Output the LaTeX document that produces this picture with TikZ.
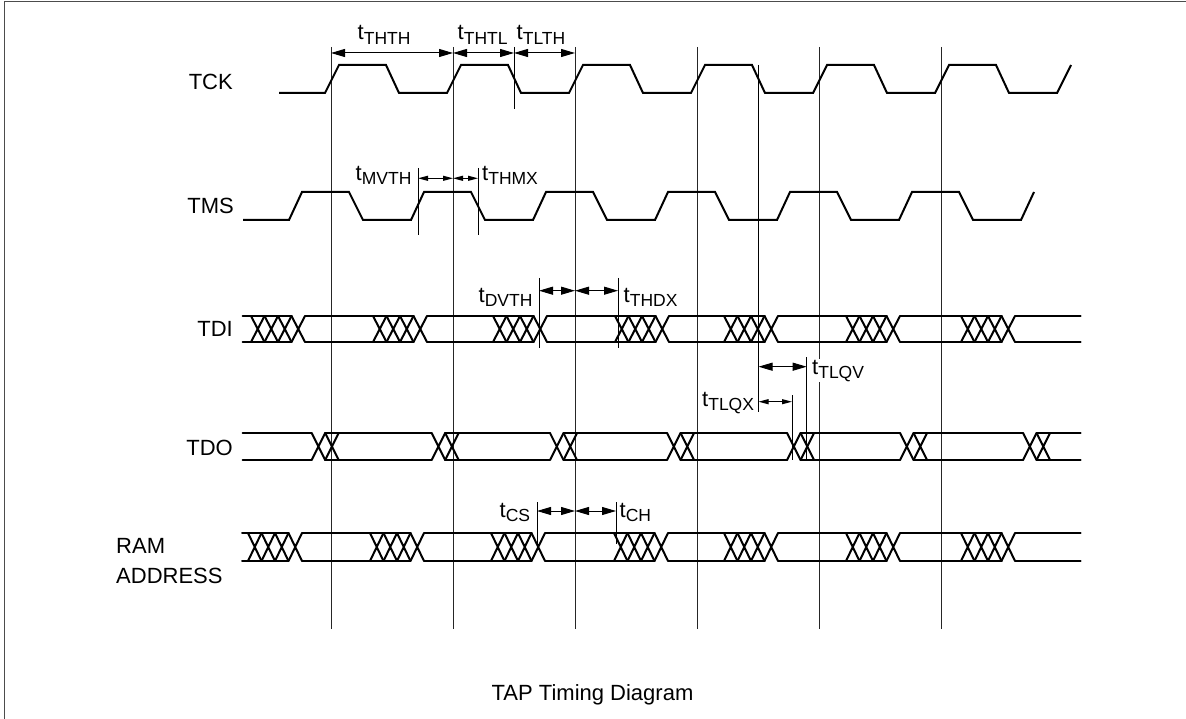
\documentclass[tikz,border=0pt]{standalone}
\usepackage{fontspec}
\setmainfont{Liberation Sans}
\usetikzlibrary{arrows.meta}
\newcommand\tlab[1]{t\raisebox{-4.5pt}{\fontsize{17.5}{17.5}\selectfont #1}}
\begin{document}
\begin{tikzpicture}[x=1pt,y=-1pt,
  sig/.style={line width=2pt},
  bus/.style={line width=2pt, line cap=round},
  clk/.style={line width=1pt, black!85},
  ext/.style={line width=1pt},
  frame/.style={line width=1.3pt, black!70},
  dimbig/.style={line width=1pt, {Triangle[length=14pt,width=8pt]}-{Triangle[length=14pt,width=8pt]}},
  dimsmall/.style={line width=1pt, {Triangle[length=10pt,width=5pt]}-{Triangle[length=10pt,width=5pt]}},
  lbl/.style={inner sep=0pt, font=\fontsize{22}{26}\selectfont},
  tl/.style={inner sep=0.5pt, anchor=base west, font=\fontsize{22}{26}\selectfont},
]
\useasboundingbox (0,0) rectangle (1186,719);
% frame (left and top edges)
\draw[frame] (4.5,719) -- (4.5,1.7) -- (1186,1.7);

% clock reference lines
\foreach \c [count=\i] in {331,453,575,697,819,941} {
  \coordinate (ct\i) at (\c,47);
  \coordinate (cb\i) at (\c,629);
  \draw[clk] (ct\i) -- (cb\i);
}

% extension lines
\draw[ext] (514,47) -- (514,109);
\draw[ext] (758.5,65) -- (758.5,412);
\draw[ext] (418,168) -- (418,235);
\draw[ext] (478,168) -- (478,235);
\draw[ext] (539,278) -- (539,348);
\draw[ext] (618,278) -- (618,348);
\draw[ext] (792,395) -- (792,460);
\draw[ext] (806.7,357) -- (806.7,460);
\draw[ext] (537,502) -- (537,544);
\draw[ext] (616,502) -- (616,544);

% TCK
\draw[sig] (279,93)
  \foreach \c in {331,453,575,697,819,941} { -- ({\c-6},93) -- ({\c+8},65) -- ({\c+55},65) -- ({\c+68},93) }
  -- (1057,93) -- (1071,65);

% TMS
\draw[sig] (243,220)
  \foreach \c in {331,453,575,697,819,941} { -- ({\c-42},220) -- ({\c-29},192) -- ({\c+18},192) -- ({\c+32},220) }
  -- (1021,220) -- (1034,192);

% TDI bus
\foreach \a/\b in {242.7/291.5, 305/413.5, 427/533.5, 547/655.5, 669/764.5, 778/886.5, 900/1001.5, 1015/1080.7}
  \draw[bus] (\a,316) -- (\b,316) (\a,342) -- (\b,342);
\foreach \s in {251,373,493,615,724,846,961}
  \foreach \i in {0,1,2,3}
    \draw[bus] ({\s+13.5*\i},316) -- ({\s+13.5*\i+13.5},342) ({\s+13.5*\i},342) -- ({\s+13.5*\i+13.5},316);

% TDO bus
\foreach \a/\b in {242.7/311.7, 325.2/431.7, 445.2/550, 563.5/667, 680.5/787, 800.5/900, 913.5/1023, 1036.5/1080.7}
  \draw[bus] (\a,433) -- (\b,433) (\a,460) -- (\b,460);
\foreach \s in {311.7,431.7,550,667,787,900,1023}
  \foreach \i in {0,1}
    \draw[bus] ({\s+13.5*\i},433) -- ({\s+13.5*\i+13.5},460) ({\s+13.5*\i},460) -- ({\s+13.5*\i+13.5},433);

% RAM ADDRESS bus
\foreach \a/\b in {242/288.5, 302/410.5, 424/531.5, 545/654.5, 668/764.5, 778/886.5, 900/1001.5, 1015/1080.7}
  \draw[bus] (\a,533) -- (\b,533) (\a,561) -- (\b,561);
\foreach \s in {248,370,491,614,724,846,961}
  \foreach \i in {0,1,2,3}
    \draw[bus] ({\s+13.5*\i},533) -- ({\s+13.5*\i+13.5},561) ({\s+13.5*\i},561) -- ({\s+13.5*\i+13.5},533);

% dimension arrows
\draw[dimbig] (331,53) -- (453,53);
\draw[dimbig] (453,53) -- (514,53);
\draw[dimbig] (514,53) -- (575,53);
\draw[dimsmall] (418,178.3) -- (453,178.3);
\draw[dimsmall] (453,178.3) -- (478,178.3);
\draw[dimbig] (539,290.7) -- (575,290.7);
\draw[dimbig] (575,290.7) -- (618,290.7);
\draw[dimbig] (758.5,366.7) -- (806.7,366.7);
\draw[dimsmall] (758.5,401.7) -- (792,401.7);
\draw[dimbig] (537,511) -- (575,511);
\draw[dimbig] (575,511) -- (616,511);

% timing labels
\node[tl] (lthth) at (357,40) {\tlab{THTH}};
\node[tl] (lthtl) at (457,40) {\tlab{THTL}};
\node[tl] (ltlth) at (516,40) {\tlab{TLTH}};
\node[tl] (lmvth) at (355,180.5) {\tlab{MVTH}};
\node[tl] (lthmx) at (481.5,180.5) {\tlab{THMX}};
\node[tl] (ldvth) at (478,302) {\tlab{DVTH}};
\node[tl] (lthdx) at (623,302) {\tlab{THDX}};
\node[tl, fill=white] (ltlqv) at (811.5,374) {\tlab{TLQV}};
\node[tl] (ltlqx) at (701.5,406) {\tlab{TLQX}};
\node[tl] (lcs) at (499,517) {\tlab{CS}};
\node[tl] (lch) at (619,517) {\tlab{CH}};

% signal names
\node[lbl, anchor=base east] (ntck) at (233,90) {TCK};
\node[lbl, anchor=base east] (ntms) at (234,214) {TMS};
\node[lbl, anchor=base east] (ntdi) at (233,337) {TDI};
\node[lbl, anchor=base east] (ntdo) at (233,455) {TDO};
\node[lbl, anchor=base west] (nram) at (116,553) {RAM};
\node[lbl, anchor=base west] (naddr) at (116,583) {ADDRESS};

% title
\node[lbl, anchor=base] (title) at (592.5,700) {TAP Timing Diagram};
\end{tikzpicture}
\end{document}
